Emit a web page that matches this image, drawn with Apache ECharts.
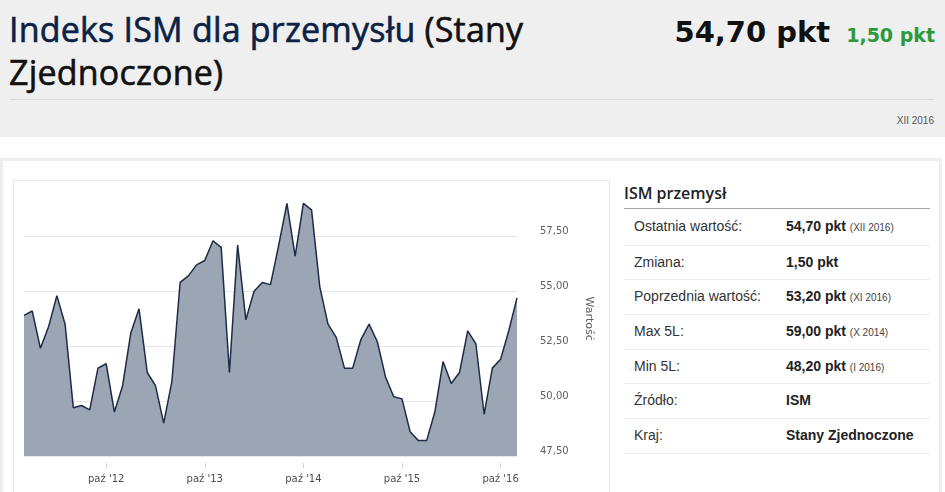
<!DOCTYPE html>
<html>
<head>
<meta charset="utf-8">
<script src="https://cdn.jsdelivr.net/npm/echarts@6/dist/echarts.min.js"></script>
<style>
  html, body { margin: 0; padding: 0; }
  body { width: 945px; height: 492px; overflow: hidden; position: relative; background: #fff; font-family: 'Liberation Sans', Arial, sans-serif; }
  .head { position: absolute; left: 0; top: 0; width: 945px; height: 137px; background: #efefef; }
  .title { position: absolute; left: 9px; top: 8px; font-family: 'Open Sans', sans-serif; font-size: 34px; line-height: 43px; letter-spacing: 0.2px; color: #111; -webkit-text-stroke: 0.6px currentColor; }
  .title .lnk { color: #0b2245; }
  .price { position: absolute; right: 10px; top: 18px; display: flex; align-items: baseline; font-family: 'DejaVu Sans', sans-serif; font-weight: bold; line-height: 28px; }
  .price .val { font-size: 29px; color: #111; }
  .price .chg { font-size: 19px; color: #2b9a3c; margin-left: 16px; }
  .sep { position: absolute; left: 10px; top: 99px; width: 924px; height: 1px; background: #d9d9d9; }
  .date { position: absolute; right: 11px; top: 115px; font-size: 10px; line-height: 12px; color: #555; }
  .outer { position: absolute; left: 0; top: 158px; width: 936px; height: 340px; border: 3px solid #eeeeee; }
  .inner { position: absolute; left: 13px; top: 180px; width: 595px; height: 320px; border: 1px solid #e8e8e8; }
  #chart { position: absolute; left: 0; top: 150px; width: 620px; height: 342px; }
  .panel { position: absolute; left: 624px; top: 183px; width: 306px; }
  .panel h3 { margin: 0; height: 25px; border-bottom: 1px solid #a6a6a6; font-family: 'Open Sans', sans-serif; font-weight: 600; font-size: 16px; line-height: 20px; color: #222; }
  .row { position: relative; height: 33.7px; line-height: 33.7px; border-bottom: 1px solid #ececec; font-size: 14px; color: #333; }
  .row:first-of-type { height: 35.5px; line-height: 35.5px; }
  .row .k { position: absolute; left: 10px; }
  .row .v { position: absolute; left: 162px; font-weight: bold; color: #222; }
  .row .v small { font-weight: normal; font-size: 10px; color: #444; }
</style>
</head>
<body>
<div class="head">
  <div class="title"><span class="lnk">Indeks ISM dla przemysłu</span> (Stany<br>Zjednoczone)</div>
  <div class="price"><span class="val">54,70 pkt</span><span class="chg">1,50 pkt</span></div>
  <div class="sep"></div>
  <div class="date">XII 2016</div>
</div>
<div class="outer"></div>
<div class="inner"></div>
<div class="panel">
  <h3>ISM przemysł</h3>
  <div class="rows">
    <div class="row"><span class="k">Ostatnia wartość:</span><span class="v">54,70 pkt <small>(XII 2016)</small></span></div>
    <div class="row"><span class="k">Zmiana:</span><span class="v">1,50 pkt</span></div>
    <div class="row"><span class="k">Poprzednia wartość:</span><span class="v">53,20 pkt <small>(XI 2016)</small></span></div>
    <div class="row"><span class="k">Max 5L:</span><span class="v">59,00 pkt <small>(X 2014)</small></span></div>
    <div class="row"><span class="k">Min 5L:</span><span class="v">48,20 pkt <small>(I 2016)</small></span></div>
    <div class="row"><span class="k">Źródło:</span><span class="v">ISM</span></div>
    <div class="row"><span class="k">Kraj:</span><span class="v">Stany Zjednoczone</span></div>
  </div>
</div>
<div id="chart"></div>
<script>
// months, Dec 2011 .. Dec 2016
const months = [
  '2011-12',
  '2012-01', '2012-02', '2012-03', '2012-04', '2012-05', '2012-06', '2012-07', '2012-08', '2012-09', '2012-10', '2012-11', '2012-12',
  '2013-01', '2013-02', '2013-03', '2013-04', '2013-05', '2013-06', '2013-07', '2013-08', '2013-09', '2013-10', '2013-11', '2013-12',
  '2014-01', '2014-02', '2014-03', '2014-04', '2014-05', '2014-06', '2014-07', '2014-08', '2014-09', '2014-10', '2014-11', '2014-12',
  '2015-01', '2015-02', '2015-03', '2015-04', '2015-05', '2015-06', '2015-07', '2015-08', '2015-09', '2015-10', '2015-11', '2015-12',
  '2016-01', '2016-02', '2016-03', '2016-04', '2016-05', '2016-06', '2016-07', '2016-08', '2016-09', '2016-10', '2016-11', '2016-12'
]

const values = [
  53.9,
  54.1, 52.4, 53.4, 54.8, 53.5, 49.7, 49.8, 49.6, 51.5, 51.7, 49.5, 50.7,
  53.1, 54.2, 51.3, 50.7, 49.0, 50.9, 55.4, 55.7, 56.2, 56.4, 57.3, 57.0,
  51.3, 57.1, 53.7, 55.0, 55.4, 55.3, 57.1, 59.0, 56.6, 59.0, 58.7, 55.2,
  53.5, 52.9, 51.5, 51.5, 52.8, 53.5, 52.7, 51.1, 50.2, 50.1, 48.6, 48.2,
  48.2, 49.5, 51.8, 50.8, 51.3, 53.2, 52.6, 49.4, 51.5, 51.9, 53.2, 54.7
]

const monthNames = ['sty', 'lut', 'mar', 'kwi', 'maj', 'cze', 'lip', 'sie', 'wrz', 'paź', 'lis', 'gru']
const labelMonth = '10'

const isLabel = (idx, val) => val.slice(5) === labelMonth
const fmtMonth = (val) => monthNames[+val.slice(5) - 1] + " '" + val.slice(2, 4)
const fmtNum = (v) => v.toFixed(2).replace('.', ',')

const chart = echarts.init(document.getElementById('chart'))
chart.setOption({
  animation: false,
  grid: { left: 24, right: 103, top: 31.4, bottom: 36, containLabel: false },
  xAxis: {
    type: 'category',
    data: months,
    boundaryGap: false,
    offset: 7,
    axisLine: { show: false },
    axisTick: { show: true, interval: isLabel, length: 5, lineStyle: { color: '#ccd6eb' } },
    axisLabel: {
      interval: isLabel,
      formatter: fmtMonth,
      margin: 11,
      color: '#4d4d4d',
      fontFamily: 'DejaVu Sans',
      fontSize: 10
    },
    splitLine: { show: false }
  },
  yAxis: {
    type: 'value',
    position: 'right',
    min: 47.5,
    max: 60,
    interval: 2.5,
    axisLine: { show: false },
    axisTick: { show: false },
    splitLine: { show: true, showMaxLine: false, lineStyle: { color: '#e6e6e6', width: 1 } },
    axisLabel: {
      formatter: fmtNum,
      showMaxLabel: false,
      verticalAlign: 'bottom',
      margin: 23,
      color: '#606060',
      fontFamily: 'DejaVu Sans',
      fontSize: 10
    },
    name: 'Wartość',
    nameLocation: 'middle',
    nameGap: 66,
    nameRotate: -90,
    nameTextStyle: { color: '#606060', fontFamily: 'DejaVu Sans', fontSize: 11 }
  },
  series: [{
    type: 'line',
    data: values,
    symbol: 'none',
    lineStyle: { color: '#1d2b48', width: 1.5 },
    areaStyle: { color: '#9ba5b4', opacity: 1 }
  }]
})
</script>
</body>
</html>
